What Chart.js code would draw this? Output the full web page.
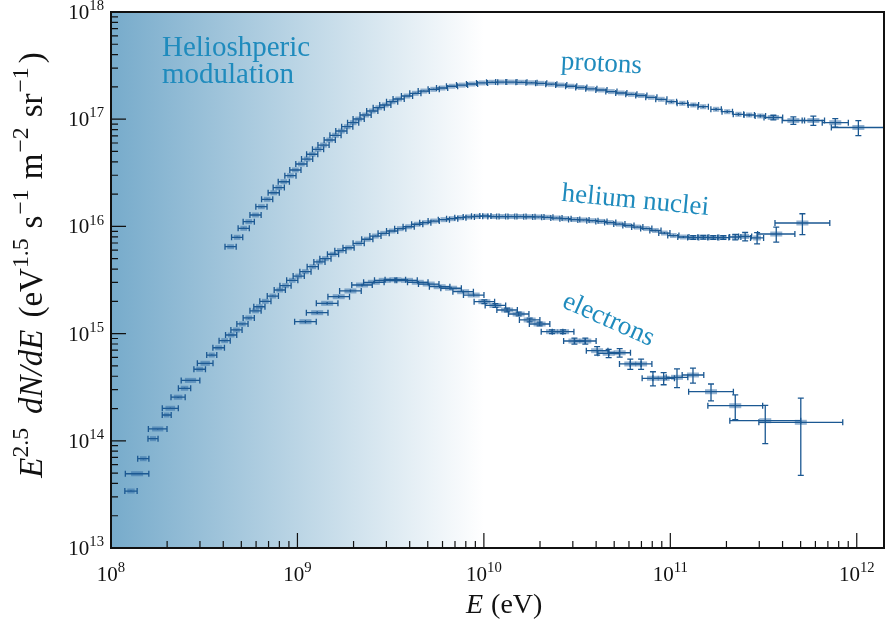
<!DOCTYPE html>
<html>
<head>
<meta charset="utf-8">
<script src="https://cdn.jsdelivr.net/npm/chart.js@4.4.0/dist/chart.umd.min.js"></script>
<style>
  html, body { margin: 0; padding: 0; background: #fff; }
  #wrap { width: 885px; height: 628px; }
</style>
</head>
<body>
<div id="wrap"><canvas id="spectra" width="885" height="628"></canvas></div>
<script>
// energies in eV, fluxes as E^2.5 dN/dE
// *Bin = half width of the energy bin in decades, *Err = relative flux uncertainty

const protonE = [
  4.38e8, 4.75e8, 5.15e8, 5.48e8, 5.96e8, 6.41e8, 6.88e8, 7.46e8, 7.94e8, 8.45e8,
  9.17e8, 9.75e8, 1.05e9, 1.127e9, 1.20e9, 1.29e9, 1.38e9, 1.49e9, 1.60e9, 1.72e9,
  1.85e9, 1.99e9, 2.13e9, 2.32e9, 2.52e9, 2.73e9, 2.96e9, 3.22e9, 3.49e9, 3.87e9,
  4.29e9, 4.76e9, 5.38e9, 5.97e9, 6.75e9, 7.64e9, 8.64e9, 9.78e9, 1.107e10, 1.24e10,
  1.405e10, 1.59e10, 1.80e10, 2.03e10, 2.30e10, 2.60e10, 2.94e10, 3.33e10, 3.77e10, 4.27e10,
  4.83e10, 5.46e10, 6.18e10, 6.99e10, 7.91e10, 8.95e10, 1.013e11, 1.16e11, 1.33e11, 1.50e11,
  1.76e11, 2.02e11, 2.32e11, 2.65e11, 3.04e11, 3.57e11, 4.57e11, 5.85e11, 7.67e11, 1.02e12
];
const protonFlux = [
  6.47e15, 7.91e15, 9.60e15, 1.107e16, 1.277e16, 1.527e16, 1.79e16, 2.06e16, 2.30e16, 2.61e16,
  2.97e16, 3.36e16, 3.82e16, 4.25e16, 4.71e16, 5.24e16, 5.74e16, 6.40e16, 7.08e16, 7.76e16,
  8.51e16, 9.28e16, 1.004e17, 1.094e17, 1.193e17, 1.28e17, 1.357e17, 1.456e17, 1.543e17, 1.646e17,
  1.744e17, 1.83e17, 1.90e17, 1.954e17, 2.03e17, 2.08e17, 2.13e17, 2.18e17, 2.21e17, 2.22e17,
  2.22e17, 2.21e17, 2.186e17, 2.16e17, 2.12e17, 2.08e17, 2.03e17, 1.976e17, 1.92e17, 1.873e17,
  1.81e17, 1.756e17, 1.707e17, 1.663e17, 1.60e17, 1.533e17, 1.456e17, 1.407e17, 1.357e17, 1.308e17,
  1.237e17, 1.175e17, 1.111e17, 1.094e17, 1.072e17, 1.037e17, 9.72e16, 9.72e16, 9.28e16, 8.37e16
];
const protonBin = [
  0.030, 0.030, 0.030, 0.030, 0.030, 0.030, 0.030, 0.030, 0.030, 0.030,
  0.030, 0.030, 0.030, 0.030, 0.030, 0.030, 0.030, 0.030, 0.030, 0.030,
  0.030, 0.030, 0.030, 0.030, 0.030, 0.030, 0.030, 0.030, 0.030, 0.030,
  0.030, 0.030, 0.030, 0.030, 0.030, 0.030, 0.030, 0.030, 0.030, 0.030,
  0.030, 0.030, 0.030, 0.030, 0.030, 0.030, 0.030, 0.030, 0.030, 0.030,
  0.030, 0.030, 0.030, 0.030, 0.030, 0.030, 0.028, 0.028, 0.028, 0.028,
  0.028, 0.028, 0.028, 0.028, 0.028, 0.050, 0.060, 0.060, 0.070, 0.145
];
const protonErr = [
  0.015, 0.015, 0.015, 0.015, 0.015, 0.015, 0.015, 0.015, 0.015, 0.015,
  0.015, 0.015, 0.015, 0.015, 0.015, 0.015, 0.015, 0.015, 0.015, 0.015,
  0.015, 0.015, 0.015, 0.015, 0.015, 0.015, 0.015, 0.015, 0.015, 0.015,
  0.015, 0.015, 0.015, 0.015, 0.015, 0.015, 0.015, 0.015, 0.015, 0.015,
  0.015, 0.015, 0.015, 0.015, 0.015, 0.015, 0.015, 0.015, 0.015, 0.015,
  0.015, 0.015, 0.015, 0.015, 0.015, 0.020, 0.025, 0.025, 0.025, 0.025,
  0.030, 0.030, 0.030, 0.030, 0.030, 0.050, 0.080, 0.100, 0.090, 0.160
];

const heliumE = [
  1.28e8, 1.38e8, 1.49e8, 1.68e8, 1.78e8, 1.99e8, 2.08e8, 2.29e8, 2.48e8, 2.67e8,
  2.99e8, 3.20e8, 3.47e8, 3.78e8, 4.07e8, 4.41e8, 4.71e8, 5.07e8, 5.48e8, 5.96e8,
  6.25e8, 6.73e8, 7.38e8, 8.04e8, 8.63e8, 9.38e8, 1.016e9, 1.104e9, 1.208e9, 1.312e9,
  1.413e9, 1.552e9, 1.70e9, 1.88e9, 2.13e9, 2.37e9, 2.62e9, 2.90e9, 3.22e9, 3.56e9,
  3.95e9, 4.39e9, 4.85e9, 5.38e9, 6.10e9, 6.76e9, 7.48e9, 8.30e9, 9.20e9, 1.019e10,
  1.125e10, 1.256e10, 1.403e10, 1.57e10, 1.754e10, 1.96e10, 2.19e10, 2.45e10, 2.74e10, 3.05e10,
  3.42e10, 3.82e10, 4.27e10, 4.76e10, 5.33e10, 5.96e10, 6.65e10, 7.43e10, 8.32e10, 9.29e10,
  1.038e11, 1.175e11, 1.327e11, 1.503e11, 1.70e11, 1.923e11, 2.23e11, 2.52e11, 2.92e11, 3.70e11,
  5.11e11
];
const heliumFlux = [
  3.40e13, 4.93e13, 6.81e13, 1.047e14, 1.29e14, 1.74e14, 2.01e14, 2.55e14, 3.09e14, 3.66e14,
  4.65e14, 5.28e14, 6.31e14, 7.38e14, 8.59e14, 9.70e14, 1.081e15, 1.23e15, 1.40e15, 1.63e15,
  1.78e15, 2.00e15, 2.24e15, 2.55e15, 2.80e15, 3.14e15, 3.44e15, 3.78e15, 4.21e15, 4.66e15,
  5.00e15, 5.50e15, 5.94e15, 6.32e15, 6.95e15, 7.59e15, 8.13e15, 8.61e15, 9.06e15, 9.53e15,
  9.93e15, 1.047e16, 1.084e16, 1.122e16, 1.156e16, 1.180e16, 1.205e16, 1.225e16, 1.242e16, 1.250e16,
  1.236e16, 1.236e16, 1.236e16, 1.236e16, 1.230e16, 1.225e16, 1.216e16, 1.197e16, 1.180e16, 1.159e16,
  1.148e16, 1.130e16, 1.112e16, 1.086e16, 1.052e16, 1.019e16, 9.86e15, 9.55e15, 9.16e15, 8.67e15,
  8.22e15, 7.96e15, 7.87e15, 7.91e15, 7.87e15, 7.87e15, 7.96e15, 8.05e15, 7.80e15, 8.49e15,
  1.076e16
];
const heliumBin = [
  0.033, 0.063, 0.030, 0.027, 0.050, 0.024, 0.043, 0.038, 0.033, 0.050,
  0.031, 0.042, 0.027, 0.031, 0.030, 0.030, 0.030, 0.030, 0.030, 0.030,
  0.030, 0.030, 0.030, 0.030, 0.030, 0.030, 0.030, 0.030, 0.030, 0.030,
  0.030, 0.030, 0.030, 0.030, 0.030, 0.030, 0.030, 0.030, 0.030, 0.030,
  0.030, 0.030, 0.030, 0.030, 0.030, 0.030, 0.030, 0.030, 0.030, 0.030,
  0.030, 0.030, 0.030, 0.030, 0.030, 0.030, 0.030, 0.030, 0.030, 0.030,
  0.030, 0.030, 0.030, 0.030, 0.030, 0.030, 0.030, 0.030, 0.030, 0.030,
  0.030, 0.030, 0.030, 0.030, 0.030, 0.030, 0.030, 0.035, 0.035, 0.100,
  0.147
];
const heliumErr = [
  0.015, 0.015, 0.015, 0.015, 0.015, 0.015, 0.015, 0.015, 0.015, 0.015,
  0.015, 0.015, 0.015, 0.015, 0.015, 0.015, 0.015, 0.015, 0.015, 0.015,
  0.015, 0.015, 0.015, 0.015, 0.015, 0.015, 0.015, 0.015, 0.015, 0.015,
  0.015, 0.015, 0.015, 0.015, 0.015, 0.015, 0.015, 0.015, 0.015, 0.015,
  0.015, 0.015, 0.015, 0.015, 0.015, 0.015, 0.015, 0.015, 0.015, 0.015,
  0.015, 0.015, 0.015, 0.015, 0.015, 0.015, 0.015, 0.015, 0.015, 0.015,
  0.015, 0.015, 0.015, 0.015, 0.015, 0.015, 0.015, 0.015, 0.020, 0.020,
  0.020, 0.020, 0.040, 0.040, 0.040, 0.040, 0.060, 0.090, 0.120, 0.160,
  0.220
];

const electronE = [
  1.104e9, 1.276e9, 1.443e9, 1.665e9, 1.924e9, 2.22e9, 2.57e9, 2.94e9, 3.35e9, 3.87e9,
  4.42e9, 5.06e9, 5.79e9, 6.67e9, 7.74e9, 8.82e9, 1.006e10, 1.153e10, 1.332e10, 1.537e10,
  1.76e10, 1.99e10, 2.32e10, 2.66e10, 3.06e10, 3.50e10, 4.05e10, 4.67e10, 5.35e10, 6.10e10,
  6.97e10, 8.07e10, 9.21e10, 1.086e11, 1.323e11, 1.653e11, 2.23e11, 3.23e11, 5.01e11
];
const electronFlux = [
  1.291e15, 1.567e15, 1.917e15, 2.21e15, 2.50e15, 2.84e15, 3.01e15, 3.14e15, 3.18e15, 3.14e15,
  3.01e15, 2.90e15, 2.74e15, 2.65e15, 2.46e15, 2.29e15, 1.985e15, 1.83e15, 1.66e15, 1.523e15,
  1.34e15, 1.229e15, 1.042e15, 1.042e15, 8.53e14, 8.53e14, 6.93e14, 6.55e14, 6.63e14, 5.21e14,
  5.21e14, 3.83e14, 3.83e14, 3.91e14, 4.11e14, 2.87e14, 2.125e14, 1.54e14, 1.488e14
];
const electronBin = [
  0.058, 0.058, 0.058, 0.058, 0.058, 0.055, 0.055, 0.055, 0.055, 0.055,
  0.055, 0.055, 0.055, 0.055, 0.055, 0.055, 0.055, 0.055, 0.055, 0.055,
  0.055, 0.055, 0.058, 0.058, 0.058, 0.058, 0.058, 0.058, 0.058, 0.058,
  0.058, 0.058, 0.058, 0.058, 0.058, 0.120, 0.147, 0.190, 0.225
];
const electronErr = [
  0.030, 0.030, 0.030, 0.030, 0.030, 0.030, 0.030, 0.030, 0.030, 0.030,
  0.030, 0.030, 0.030, 0.030, 0.030, 0.030, 0.040, 0.040, 0.040, 0.040,
  0.040, 0.040, 0.040, 0.040, 0.065, 0.065, 0.090, 0.090, 0.090, 0.110,
  0.110, 0.150, 0.130, 0.200, 0.160, 0.180, 0.260, 0.390, 0.680
];

// axis decades carrying labels
const xDecades = [8, 9, 10, 11, 12];
const yDecades = [13, 14, 15, 16, 17, 18];

const BAR = '#1b5892';
const BOX = 'rgba(44, 104, 164, 0.5)';
const NOTE = '#1f8bbd';
const SERIF = '"Liberation Serif", "DejaVu Serif", serif';

function toPoints(E, F, bin, err) {
  return E.map((e, i) => ({ x: e, y: F[i], bin: bin[i], err: err[i] }));
}

// translucent box + x/y error bars with caps
const errorBars = {
  id: 'errorBars',
  beforeDatasetsDraw(chart) {
    const { ctx, chartArea: a } = chart;
    const xs = chart.scales.x, ys = chart.scales.y;
    ctx.save();
    ctx.beginPath();
    ctx.rect(a.left, a.top, a.right - a.left, a.bottom - a.top);
    ctx.clip();
    const cap = 3;
    chart.data.datasets.forEach(ds => {
      ds.data.forEach(p => {
        const f = Math.pow(10, p.bin * 0.6);
        const cx = xs.getPixelForValue(p.x);
        const bl = Math.max(xs.getPixelForValue(p.x / f), cx - 6);
        const br = Math.min(xs.getPixelForValue(p.x * f), cx + 6);
        const cy = ys.getPixelForValue(p.y);
        ctx.fillStyle = BOX;
        ctx.fillRect(bl, cy - 2.5, br - bl, 5);
      });
    });
    ctx.strokeStyle = BAR;
    ctx.lineWidth = 1.3;
    chart.data.datasets.forEach(ds => {
      ds.data.forEach(p => {
        const f = Math.pow(10, p.bin);
        const cx = xs.getPixelForValue(p.x);
        const xl = xs.getPixelForValue(p.x / f);
        const xr = xs.getPixelForValue(p.x * f);
        const cy = ys.getPixelForValue(p.y);
        const yt = ys.getPixelForValue(p.y * (1 + p.err));
        const yb = ys.getPixelForValue(Math.max(p.y * (1 - p.err), 1));
        ctx.beginPath();
        ctx.moveTo(xl, cy); ctx.lineTo(xr, cy);
        ctx.moveTo(xl, cy - cap); ctx.lineTo(xl, cy + cap);
        ctx.moveTo(xr, cy - cap); ctx.lineTo(xr, cy + cap);
        ctx.moveTo(cx, yt); ctx.lineTo(cx, yb);
        if (yb - yt > 3) {
          ctx.moveTo(cx - cap, yt); ctx.lineTo(cx + cap, yt);
          ctx.moveTo(cx - cap, yb); ctx.lineTo(cx + cap, yb);
        }
        ctx.stroke();
      });
    });
    ctx.restore();
  }
};

// mixed italic / superscript text run
function richWidth(ctx, segs, size, supScale) {
  let w = 0;
  segs.forEach(s => {
    const sz = s.sup ? size * supScale : size;
    ctx.font = (s.it ? 'italic ' : '') + sz + 'px ' + SERIF;
    w += ctx.measureText(s.t).width + (s.gap || 0);
  });
  return w;
}
function drawRich(ctx, segs, x, y, size, supScale) {
  segs.forEach(s => {
    const sz = s.sup ? size * supScale : size;
    ctx.font = (s.it ? 'italic ' : '') + sz + 'px ' + SERIF;
    ctx.fillText(s.t, x, s.sup ? y - size * 0.42 : y);
    x += ctx.measureText(s.t).width + (s.gap || 0);
  });
}

const background = {
  id: 'background',
  beforeDraw(chart) {
    const { ctx, chartArea: a } = chart;
    const xs = chart.scales.x;
    ctx.save();
    ctx.fillStyle = '#fff';
    ctx.fillRect(0, 0, chart.width, chart.height);
    const end = xs.getPixelForValue(1e10);
    const g = ctx.createLinearGradient(a.left, 0, end, 0);
    g.addColorStop(0, '#77abcb');
    g.addColorStop(1, 'rgba(255,255,255,1)');
    ctx.fillStyle = g;
    ctx.fillRect(a.left, a.top, end - a.left, a.bottom - a.top);
    ctx.restore();
  }
};

const frame = {
  id: 'frame',
  afterDraw(chart) {
    const { ctx, chartArea: a } = chart;
    const xs = chart.scales.x, ys = chart.scales.y;
    ctx.save();
    ctx.strokeStyle = '#111';
    ctx.lineWidth = 1.2;
    // inward ticks, bottom and left
    ctx.beginPath();
    xDecades.forEach(d => {
      for (let m = 1; m < 10; m++) {
        const v = m * Math.pow(10, d);
        if (v > xs.max) break;
        const px = xs.getPixelForValue(v);
        ctx.moveTo(px, a.bottom);
        ctx.lineTo(px, a.bottom - (m === 1 ? 15 : 7));
      }
    });
    yDecades.forEach(d => {
      for (let m = 1; m < 10; m++) {
        const v = m * Math.pow(10, d);
        if (v > ys.max) break;
        const py = ys.getPixelForValue(v);
        ctx.moveTo(a.left, py);
        ctx.lineTo(a.left + (m === 1 ? 15 : 7), py);
      }
    });
    ctx.stroke();
    ctx.lineWidth = 2;
    ctx.strokeRect(a.left, a.top, a.right - a.left, a.bottom - a.top);

    // tick labels
    ctx.fillStyle = '#111';
    ctx.textBaseline = 'alphabetic';
    ctx.textAlign = 'left';
    xDecades.forEach(d => {
      const segs = [{ t: '10' }, { t: String(d), sup: true }];
      const w = richWidth(ctx, segs, 21, 0.7);
      drawRich(ctx, segs, xs.getPixelForValue(Math.pow(10, d)) - w / 2, 581, 21, 0.7);
    });
    yDecades.forEach(d => {
      const segs = [{ t: '10' }, { t: String(d), sup: true }];
      const w = richWidth(ctx, segs, 21, 0.7);
      drawRich(ctx, segs, 104 - w, ys.getPixelForValue(Math.pow(10, d)) + 7, 21, 0.7);
    });

    // axis titles
    const xt = [{ t: 'E', it: true, gap: 8 }, { t: '(eV)' }];
    drawRich(ctx, xt, 466, 613, 28, 0.7);

    const yt = [
      { t: 'E', it: true }, { t: '2.5', sup: true, gap: 14 },
      { t: 'dN/dE', it: true, gap: 12 },
      { t: '(eV' }, { t: '1.5', sup: true, gap: 10 },
      { t: 's', gap: 1 }, { t: '\u22121', sup: true, gap: 10 },
      { t: 'm', gap: 1 }, { t: '\u22122', sup: true, gap: 10 },
      { t: 'sr', gap: 1 }, { t: '\u22121', sup: true, gap: 4 },
      { t: ')' }
    ];
    const yw = richWidth(ctx, yt, 33, 0.72);
    ctx.save();
    ctx.translate(42, 265);
    ctx.rotate(-Math.PI / 2);
    drawRich(ctx, yt, -yw / 2, 0, 33, 0.72);
    ctx.restore();

    // annotations
    ctx.fillStyle = NOTE;
    ctx.font = '29px ' + SERIF;
    ctx.fillText('Helioshperic', 162, 56);
    ctx.fillText('modulation', 162, 83);

    const notes = [
      { t: 'protons', x: 4.27e10, y: 3.27e17, r: 3 },
      { t: 'helium nuclei', x: 6.49e10, y: 1.73e16, r: 5.5 },
      { t: 'electrons', x: 4.66e10, y: 1.34e15, r: 24 }
    ];
    ctx.textAlign = 'center';
    ctx.textBaseline = 'middle';
    ctx.font = '27px ' + SERIF;
    notes.forEach(n => {
      ctx.save();
      ctx.translate(xs.getPixelForValue(n.x), ys.getPixelForValue(n.y));
      ctx.rotate(n.r * Math.PI / 180);
      ctx.fillText(n.t, 0, 0);
      ctx.restore();
    });
    ctx.restore();
  }
};

new Chart(document.getElementById('spectra'), {
  type: 'scatter',
  data: {
    datasets: [
      { label: 'protons', data: toPoints(protonE, protonFlux, protonBin, protonErr) },
      { label: 'helium nuclei', data: toPoints(heliumE, heliumFlux, heliumBin, heliumErr) },
      { label: 'electrons', data: toPoints(electronE, electronFlux, electronBin, electronErr) }
    ]
  },
  options: {
    responsive: false,
    animation: false,
    devicePixelRatio: 1,
    layout: { padding: { left: 111, right: 1, top: 12, bottom: 80 } },
    elements: { point: { radius: 0, hoverRadius: 0 } },
    plugins: { legend: { display: false }, tooltip: { enabled: false } },
    scales: {
      x: { type: 'logarithmic', min: 1e8, max: 1.4e12, display: false },
      y: { type: 'logarithmic', min: 1e13, max: 1e18, display: false }
    }
  },
  plugins: [background, errorBars, frame]
});
</script>
</body>
</html>
